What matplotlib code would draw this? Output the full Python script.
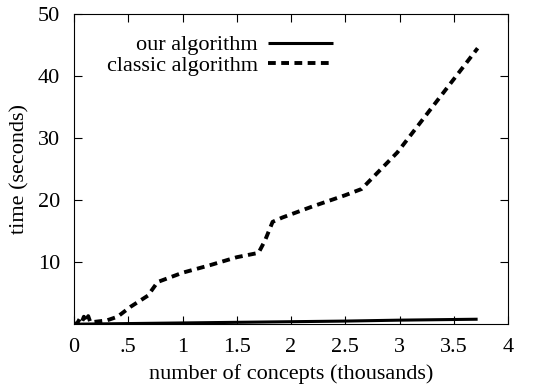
import matplotlib.pyplot as plt

plt.rcParams['font.family'] = ['Liberation Serif', 'DejaVu Serif']

# running time vs number of concepts (thousands)
ours_x = [0.0, 0.5, 1.0, 1.5, 2.0, 2.5, 3.0, 3.72]
ours_y = [0.0, 0.1, 0.2, 0.3, 0.4, 0.5, 0.65, 0.8]

classic_x = [0.0, 0.03, 0.05, 0.07, 0.09, 0.11, 0.13, 0.15, 0.2, 0.3, 0.4,
             0.52, 0.68, 0.77, 1.0, 1.25, 1.5, 1.7, 1.76, 1.83, 1.92, 2.2,
             2.5, 2.65, 2.98, 3.72]
classic_y = [0.0, 0.2, 0.8, 0.3, 1.2, 0.4, 1.3, 0.3, 0.4, 0.6, 1.2,
             2.8, 4.6, 6.8, 8.3, 9.5, 10.8, 11.5, 13.5, 16.5, 17.2, 19.0,
             20.8, 21.8, 27.7, 44.5]

xticks = [0, 0.5, 1, 1.5, 2, 2.5, 3, 3.5, 4]
xtick_labels = ['0', '.5', '1', '1.5', '2', '2.5', '3', '3.5', '4']
yticks = [10, 20, 30, 40, 50]

fig = plt.figure(figsize=(5.37, 3.92), dpi=100)
ax = fig.add_axes([0.138, 0.173, 0.808, 0.791])

ax.plot(ours_x, ours_y, color='black', lw=2.2, label='our algorithm',
        solid_capstyle='butt')
ax.plot(classic_x, classic_y, color='black', lw=2.8, dashes=(2, 1.4),
        label='classic algorithm')

ax.set_xlim(0, 4)
ax.set_ylim(0, 50)
ax.set_xticks(xticks)
ax.set_xticklabels(xtick_labels)
ax.set_yticks(yticks)
ax.tick_params(direction='in', top=True, right=True, length=6,
               labelsize=16, pad=10)
ax.set_xlabel('number of concepts (thousands)', fontsize=16, labelpad=5)
ax.set_ylabel('time (seconds)', fontsize=16, labelpad=6)

ax.legend(loc='upper left', bbox_to_anchor=(0.03, 0.998), frameon=False,
          markerfirst=False, fontsize=16, handlelength=2.9,
          labelspacing=0.0, handletextpad=0.45)

fig.savefig('out.png', dpi=100)
